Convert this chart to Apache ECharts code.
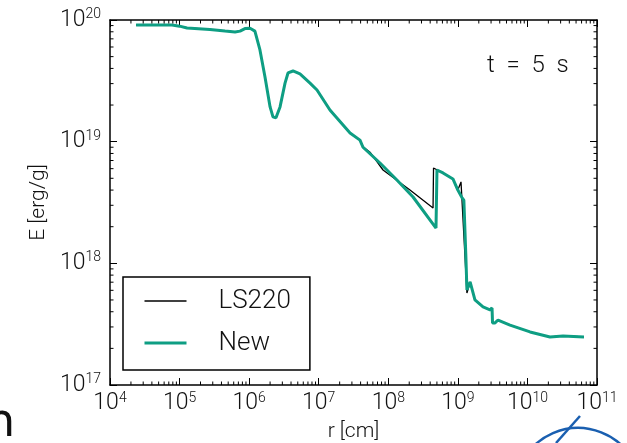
<!DOCTYPE html>
<html>
<head>
<meta charset="utf-8">
<script src="https://cdn.jsdelivr.net/npm/echarts@6/dist/echarts.min.js"></script>
<style>
html,body{margin:0;padding:0;background:#fff;}
#c{width:627px;height:443px;}
</style>
</head>
<body>
<div id="c"></div>
<script>
// ---- data ----
const rNew = [2.37e4, 4.0e4, 7.8e4, 1.0e5, 1.28e5, 2.73e5, 4.5e5, 6.27e5, 7.4e5, 8.7e5, 1.03e6, 1.21e6, 1.43e6, 1.69e6, 2.0e6, 2.2e6, 2.43e6, 2.78e6, 3.28e6, 3.62e6, 4.27e6, 5.38e6, 7.5e6, 9.45e6, 1.45e7, 2.82e7, 3.92e7, 4.33e7, 7.6e7, 1.33e8, 2.27e8, 4.85e8, 5.01e8, 6.12e8, 8.5e8, 1.0e9, 1.15e9, 1.22e9, 1.3e9, 1.35e9, 1.5e9, 1.76e9, 2.3e9, 2.9e9, 3.1e9, 3.15e9, 3.42e9, 3.78e9, 5.62e9, 1.09e10, 2.11e10, 3.25e10, 6.5e10];
const eNew = [9.1e19, 9.1e19, 9.1e19, 8.9e19, 8.6e19, 8.36e19, 8.12e19, 7.97e19, 8.1e19, 8.5e19, 8.55e19, 8.1e19, 5.67e19, 3.4e19, 1.93e19, 1.6e19, 1.57e19, 1.93e19, 3.03e19, 3.67e19, 3.81e19, 3.6e19, 3.03e19, 2.66e19, 1.82e19, 1.18e19, 1.03e19, 9.0e18, 6.68e18, 4.84e18, 3.51e18, 1.95e18, 5.85e18, 5.53e18, 4.94e18, 4.0e18, 3.45e18, 3.3e18, 1.2e18, 6.04e17, 7.03e17, 5.0e17, 4.38e17, 4.14e17, 4.3e17, 3.24e17, 3.24e17, 3.42e17, 3.11e17, 2.73e17, 2.48e17, 2.53e17, 2.48e17];

const rLS = [2.37e4, 4.0e4, 7.8e4, 1.0e5, 1.28e5, 2.73e5, 4.5e5, 6.27e5, 7.4e5, 8.7e5, 1.03e6, 1.21e6, 1.43e6, 1.69e6, 2.0e6, 2.2e6, 2.43e6, 2.78e6, 3.28e6, 3.62e6, 4.27e6, 5.38e6, 7.5e6, 9.45e6, 1.45e7, 2.82e7, 3.92e7, 4.33e7, 5.46e7, 8.4e7, 2.05e8, 4.4e8, 4.47e8, 6.12e8, 8.5e8, 1.0e9, 1.11e9, 1.35e9, 1.5e9, 1.76e9, 2.3e9, 2.9e9, 3.1e9, 3.15e9, 3.42e9, 3.78e9, 5.62e9, 1.09e10, 2.11e10, 3.25e10, 6.5e10];
const eLS = [9.1e19, 9.1e19, 9.1e19, 8.9e19, 8.6e19, 8.36e19, 8.12e19, 7.97e19, 8.1e19, 8.5e19, 8.55e19, 8.1e19, 5.67e19, 3.4e19, 1.93e19, 1.6e19, 1.57e19, 1.93e19, 3.03e19, 3.67e19, 3.81e19, 3.6e19, 3.03e19, 2.66e19, 1.82e19, 1.18e19, 1.03e19, 9.1e18, 8.2e18, 5.85e18, 4.0e18, 2.85e18, 6.08e18, 5.53e18, 4.94e18, 4.0e18, 4.67e18, 5.7e17, 7.03e17, 5.0e17, 4.38e17, 4.14e17, 4.3e17, 3.24e17, 3.24e17, 3.42e17, 3.11e17, 2.73e17, 2.48e17, 2.53e17, 2.48e17];

const xTickExps = [4, 5, 6, 7, 8, 9, 10, 11];
const yTickExps = [17, 18, 19, 20];
const minorMults = [2, 3, 4, 5, 6, 7, 8, 9];
const seriesNames = ['LS220', 'New'];
const annotation = 't  =  5  s';

// ---- build ----
const FONT = 'Roboto';
const TXT = '#111';
const GREEN = '#0e9e83';
const xMin = Math.pow(10, xTickExps[0]), xMax = Math.pow(10, xTickExps[xTickExps.length - 1]);
const yMin = Math.pow(10, yTickExps[0]), yMax = Math.pow(10, yTickExps[yTickExps.length - 1]);

const minorX = [], minorY = [];
xTickExps.slice(0, -1).forEach(e => minorMults.forEach(m => minorX.push([m * Math.pow(10, e), yMin])));
yTickExps.slice(0, -1).forEach(e => minorMults.forEach(m => minorY.push([xMin, m * Math.pow(10, e)])));

const supLabel = (v) => '{b|10}{s|' + Math.round(Math.log10(v)) + '}';
const rich = {
  b: {fontFamily: FONT, fontWeight: 300, fontSize: 23, color: TXT, lineHeight: 25},
  s: {fontFamily: FONT, fontWeight: 300, fontSize: 14, color: TXT, lineHeight: 14, verticalAlign: 'top'}
};
const axisLine = {show: true, onZero: false, lineStyle: {color: '#000', width: 1.5}};
const major = {show: true, inside: true, length: 7, lineStyle: {color: '#000', width: 1}};

const option = {
  animation: false,
  backgroundColor: '#fff',
  grid: {left: 110, right: 30, top: 20, bottom: 58, containLabel: false, outerBoundsMode: 'none'},
  xAxis: [
    {type: 'log', logBase: 10, min: xMin, max: xMax, splitNumber: 7, position: 'bottom',
     axisLine, axisTick: major, splitLine: {show: false},
     axisLabel: {formatter: supLabel, rich, margin: 6},
     name: 'r [cm]', nameLocation: 'middle', nameGap: 36,
     nameTextStyle: {fontFamily: FONT, fontWeight: 300, fontSize: 21, color: TXT}},
    {type: 'log', logBase: 10, min: xMin, max: xMax, splitNumber: 7, position: 'top',
     axisLine, axisTick: major, splitLine: {show: false}, axisLabel: {show: false}}
  ],
  yAxis: [
    {type: 'log', logBase: 10, min: yMin, max: yMax, splitNumber: 3, position: 'left',
     axisLine, axisTick: major, splitLine: {show: false},
     axisLabel: {formatter: supLabel, rich, margin: 9},
     name: 'E [erg/g]', nameLocation: 'middle', nameGap: 55, nameRotate: 90,
     nameTextStyle: {fontFamily: FONT, fontWeight: 300, fontSize: 21, color: TXT}},
    {type: 'log', logBase: 10, min: yMin, max: yMax, splitNumber: 3, position: 'right',
     axisLine, axisTick: major, splitLine: {show: false}, axisLabel: {show: false}}
  ],
  legend: {
    data: [
      {name: seriesNames[0], lineStyle: {color: '#000', width: 1.5}},
      {name: seriesNames[1], lineStyle: {color: GREEN, width: 3}}
    ],
    orient: 'vertical', left: 123, top: 277,
    padding: [11, 19, 14, 20], itemWidth: 42, itemHeight: 20, itemGap: 16,
    borderColor: '#000', borderWidth: 1.5, borderRadius: 0, backgroundColor: '#fff',
    itemStyle: {opacity: 0},
    textStyle: {fontFamily: FONT, fontWeight: 300, fontSize: 26, color: TXT, padding: [0, 0, 0, 27]}
  },
  graphic: [
    {type: 'text', left: 487, top: 54, style: {text: annotation, fontFamily: FONT, fontWeight: 300, fontSize: 24, fill: TXT}},
    {type: 'text', left: -14, top: 401, style: {text: 'n', fontFamily: 'DejaVu Sans', fontSize: 46, fill: '#111'}},
    {type: 'arc', shape: {cx: 578, cy: 491, r: 63, startAngle: Math.PI * 1.12, endAngle: Math.PI * 1.88}, style: {stroke: '#1a5fb0', lineWidth: 2.5, fill: 'none'}},
    {type: 'line', shape: {x1: 580, y1: 416, x2: 556, y2: 443}, style: {stroke: '#1a5fb0', lineWidth: 2.5}}
  ],
  series: [
    {name: 'LS220', type: 'line', symbol: 'none', data: rLS.map((r, i) => [r, eLS[i]]),
     lineStyle: {color: '#000', width: 1.3}, itemStyle: {color: '#000'}, z: 3},
    {name: 'New', type: 'line', symbol: 'none', data: rNew.map((r, i) => [r, eNew[i]]),
     lineStyle: {color: GREEN, width: 3}, itemStyle: {color: GREEN}, z: 4},
    {type: 'custom', data: minorX, silent: true, z: 5,
     renderItem: (params, api) => {
       const cs = params.coordSys;
       const x = api.coord([api.value(0), yMin])[0];
       const yb = cs.y + cs.height, yt = cs.y;
       return {type: 'group', children: [
         {type: 'line', shape: {x1: x, y1: yb, x2: x, y2: yb - 3.5}, style: {stroke: '#000', lineWidth: 1}},
         {type: 'line', shape: {x1: x, y1: yt, x2: x, y2: yt + 3.5}, style: {stroke: '#000', lineWidth: 1}}
       ]};
     }},
    {type: 'custom', data: minorY, silent: true, z: 5,
     renderItem: (params, api) => {
       const cs = params.coordSys;
       const y = api.coord([xMin, api.value(1)])[1];
       const xl = cs.x, xr = cs.x + cs.width;
       return {type: 'group', children: [
         {type: 'line', shape: {x1: xl, y1: y, x2: xl + 3.5, y2: y}, style: {stroke: '#000', lineWidth: 1}},
         {type: 'line', shape: {x1: xr, y1: y, x2: xr - 3.5, y2: y}, style: {stroke: '#000', lineWidth: 1}}
       ]};
     }}
  ]
};
const chart = echarts.init(document.getElementById('c'), null, {renderer: 'canvas'});
chart.setOption(option);
</script>
</body>
</html>
